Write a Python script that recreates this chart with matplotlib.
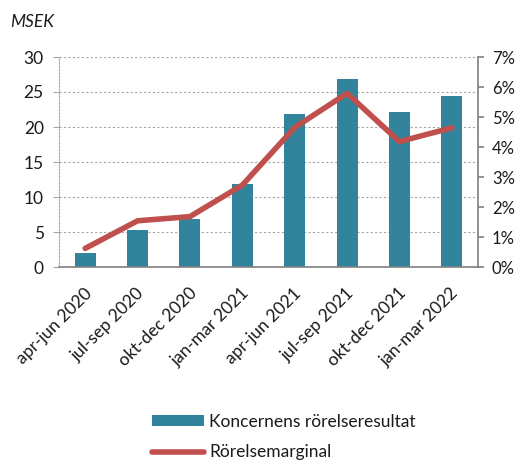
import matplotlib
matplotlib.use("Agg")
import matplotlib.pyplot as plt
from matplotlib.ticker import FuncFormatter
import matplotlib.transforms as mtrans

categories = ["apr-jun 2020", "jul-sep 2020", "okt-dec 2020", "jan-mar 2021",
              "apr-jun 2021", "jul-sep 2021", "okt-dec 2021", "jan-mar 2022"]
resultat = [2.0, 5.3, 6.8, 11.9, 21.9, 26.8, 22.1, 24.4]
marginal = [0.62, 1.54, 1.68, 2.73, 4.65, 5.79, 4.18, 4.64]

plt.rcParams['font.family'] = ['Lato', 'DejaVu Sans']
bar_color = "#31849B"
line_color = "#C0504D"
grid_color = "#A6A6A6"
text_color = "#1a1a1a"

fig = plt.figure(figsize=(5.19, 4.61), dpi=100)
ax = fig.add_axes([59/519, 1-267/461, (478-59)/519, (267-57)/461])
x = list(range(len(categories)))
bars = ax.bar(x, resultat, width=0.4, color=bar_color, zorder=2,
              label="Koncernens rörelseresultat")
ax.set_xlim(-0.5, len(categories)-0.5)
ax.set_ylim(0, 30)
ax.set_yticks(range(0, 31, 5))
ax.yaxis.grid(True, linestyle=(0, (2, 2)), color=grid_color, linewidth=0.8)
ax.set_axisbelow(True)
for s in ["top", "right"]:
    ax.spines[s].set_visible(False)
ax.spines["left"].set_linestyle((0, (1.5, 1.5)))
ax.spines["left"].set_color(grid_color)
ax.spines["bottom"].set_color("#808080")
ax.spines["bottom"].set_linewidth(1.2)
ax.tick_params(axis="y", length=4, color=grid_color, labelsize=12.5, pad=7,
               labelcolor=text_color)
ax.tick_params(axis="x", length=0, labelsize=12.5, pad=13, labelcolor=text_color)
ax.set_xticks(x)
ax.set_xticklabels(categories, rotation=45, ha="right", rotation_mode="anchor")
offset = mtrans.ScaledTranslation(-1/72, 0, fig.dpi_scale_trans)
for lbl in ax.get_xticklabels():
    lbl.set_transform(lbl.get_transform() + offset)

ax2 = ax.twinx()
line, = ax2.plot(x, marginal, color=line_color, linewidth=4, solid_capstyle="round",
                 label="Rörelsemarginal", zorder=3)
ax2.set_ylim(0, 7)
ax2.set_yticks(range(0, 8))
ax2.yaxis.set_major_formatter(FuncFormatter(lambda v, p: f"{int(v)}%"))
for s in ["top", "left", "bottom"]:
    ax2.spines[s].set_visible(False)
ax2.spines["right"].set_color("#808080")
ax2.spines["right"].set_linewidth(1.2)
ax2.tick_params(axis="y", length=4, color="#808080", width=1.2, labelsize=12, pad=6,
                labelcolor=text_color)

fig.text(10/519, 1-22/461, "MSEK", fontsize=12.5, style="italic", va="center", ha="left",
         color=text_color)

fig.legend([bars, line], ["Koncernens rörelseresultat", "Rörelsemarginal"],
           loc="center", bbox_to_anchor=(284/519, 1-437/461), ncol=1, frameon=False,
           fontsize=12.5, handlelength=3.0, handletextpad=0.3, labelspacing=0.85,
           handleheight=0.6, borderpad=0, labelcolor=text_color)

fig.savefig("out.png", dpi=100)
